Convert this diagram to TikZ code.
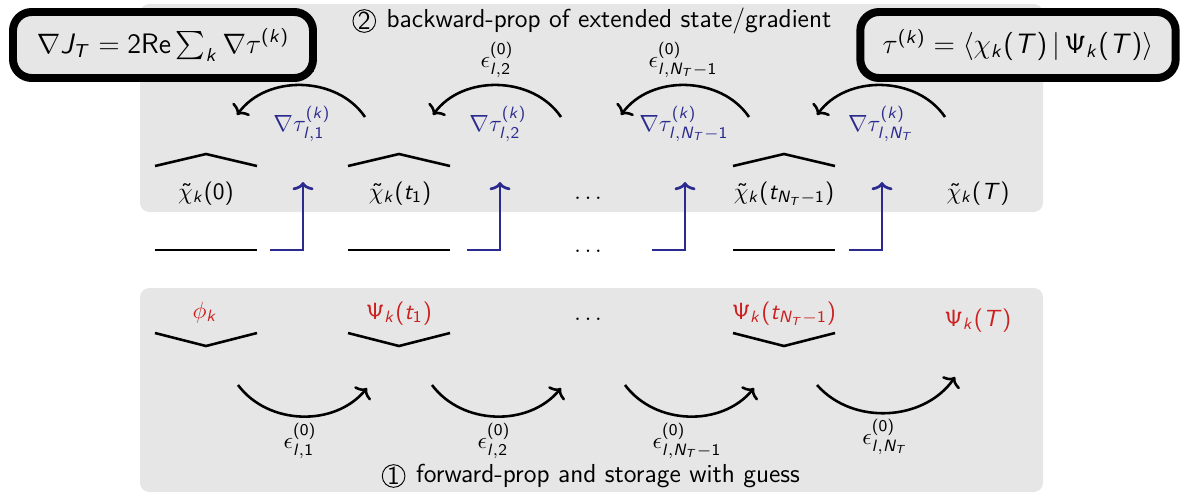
\documentclass[tikz,border=0pt]{standalone}
\usepackage{amsmath,amssymb}
\usepackage[no-math]{fontspec}
\renewcommand{\familydefault}{\sfdefault}
\usetikzlibrary{arrows.meta,positioning}
% sans serif math letters and digits
\DeclareSymbolFont{sfletters}{OT1}{cmss}{m}{sl}
\SetSymbolFont{operators}{normal}{OT1}{cmss}{m}{n}
\newcommand{\sfml}[1]{\DeclareMathSymbol{#1}{\mathalpha}{sfletters}{`#1}}
\sfml a\sfml b\sfml c\sfml d\sfml e\sfml f\sfml g\sfml h\sfml i\sfml j\sfml k\sfml l\sfml m
\sfml n\sfml o\sfml p\sfml q\sfml r\sfml s\sfml t\sfml u\sfml v\sfml w\sfml x\sfml y\sfml z
\sfml A\sfml B\sfml C\sfml D\sfml E\sfml F\sfml G\sfml H\sfml I\sfml J\sfml K\sfml L\sfml M
\sfml N\sfml O\sfml P\sfml Q\sfml R\sfml S\sfml T\sfml U\sfml V\sfml W\sfml X\sfml Y\sfml Z
\definecolor{cBg}{HTML}{E6E6E6}
\definecolor{cGrad}{HTML}{2B2B8F}
\definecolor{cPsi}{HTML}{CC1F1F}
\tikzset{
  panel/.style={fill=cBg,rounded corners=4pt},
  formula/.style={rounded corners=8pt,draw=black,line width=3.4pt,fill=cBg,
              inner sep=0pt,minimum height=0.99cm,font=\large},
  stage/.style={font=\fontsize{11.1}{14}\selectfont},
  numcirc/.style={circle,draw,thin,inner sep=0pt,minimum size=0.34cm,
              font=\fontsize{11.1}{14}\selectfont},
  proparrow/.style={-{To[length=3.5pt,width=9pt]},line width=1.1pt},
  gradarrow/.style={-{To[length=3.5pt,width=9pt]},line width=1.15pt,cGrad},
  seg/.style={line width=1.1pt},
  grad/.style={text=cGrad},
  psi/.style={text=cPsi,anchor=base},
  chi/.style={anchor=base},
}
\newcommand{\grd}[1]{\nabla\tau^{(k)}_{l,#1}}
\newcommand{\eps}[1]{\epsilon^{(0)}_{l,#1}}

\begin{document}
\begin{tikzpicture}[x=0.015cm,y=-0.015cm]
  \useasboundingbox (0,0) rectangle (1182,496);
  % the two stages
  \fill[panel] (140,4) rectangle (1043,212);
  \fill[panel] (140,288) rectangle (1043,492);
  \node[stage] (back) at (609,21) {backward-prop of extended state/gradient};
  \node[numcirc,left=1pt of back] (two) {2};
  \node[stage] (fwd) at (608,476) {forward-prop and storage with guess};
  \node[numcirc,left=1pt of fwd] (one) {1};

  % backward states
  \node[chi](chi0) at (206,199){$\tilde\chi_k(0)$};
  \node[chi](chi1) at (400,199){$\tilde\chi_k(t_1)$};
  \node[chi](chid) at (590,199){$\dots$};
  \node[chi](chiN) at (784,199){$\tilde\chi_k(t_{N_T-1})$};
  \node[chi](chiT) at (978,199){$\tilde\chi_k(T)$};
  \node[chi](midd) at (590,252){$\dots$};

  % forward states
  \node[psi](phi) at (205,318){$\phi_k$};
  \node[psi](psi1) at (399,319){$\Psi_k(t_1)$};
  \node[chi](psid) at (590,320){$\dots$};
  \node[psi](psiN) at (784,319){$\Psi_k(t_{N_T-1})$};
  \node[psi](psiT) at (978,326){$\Psi_k(T)$};

  % gradients and pulses
  \node[grad](g1) at (302,124){$\grd{1}$};
  \node[grad](g2) at (498,124){$\grd{2}$};
  \node[grad](g3) at (684,124){$\grd{N_T-1}$};
  \node[grad](g4) at (881,124){$\grd{N_T}$};
  \node(eb1) at (302,58){$\eps{1}$};
  \node(eb2) at (497,60){$\eps{2}$};
  \node(eb3) at (683,60){$\eps{N_T-1}$};
  \node(ef1) at (300,441){$\eps{1}$};
  \node(ef2) at (494,441){$\eps{2}$};
  \node(ef3) at (687,441){$\eps{N_T-1}$};
  \node(ef4) at (885,437){$\eps{N_T}$};

  % hats, lines and chevrons
  \foreach \x in {206,399,784}{
    \draw[seg] (\x-51,166) -- (\x,154) -- (\x+51,166);
    \draw[seg] (\x-51,250) -- (\x+51,250);
    \draw[seg] (\x-51,333) -- (\x,346) -- (\x+51,333);
  }

  % propagation arcs
  \foreach \x/\n in {301/1,497/2,685/3,881/4}{
    \coordinate (bs\n) at (\x+64,117);
    \coordinate (be\n) at (\x-64,115);
    \draw[proparrow] (bs\n) to[bend right=55] (be\n);
  }
  \foreach \x/\n in {302/1,496/2,689/3}{
    \coordinate (fs\n) at (\x-64,385);
    \coordinate (fe\n) at (\x+65,388);
    \draw[proparrow] (fs\n) to[bend right=52] (fe\n);
  }
  \coordinate (fs4) at (817,385);
  \coordinate (fe4) at (955,377);
  \draw[proparrow] (fs4) to[bend right=52] (fe4);

  % gradient feed
  \foreach \x/\n in {303/1,500/2,685/3,882/4}{
    \coordinate (gs\n) at (\x-33,250);
    \coordinate (gt\n) at (\x,182);
    \draw[gradarrow] (gs\n) -| (gt\n);
  }

  % formulas
  \node[formula,minimum width=4.5cm](grad) at (163,45)
    {$\nabla J_T = 2\mathrm{Re}\sum_k \nabla\tau^{(k)}$};
  \node[formula,minimum width=4.73cm](ovl) at (1018,45)
    {$\tau^{(k)} = \langle \chi_k(T) \,|\, \Psi_k(T)\rangle$};
\end{tikzpicture}
\end{document}
